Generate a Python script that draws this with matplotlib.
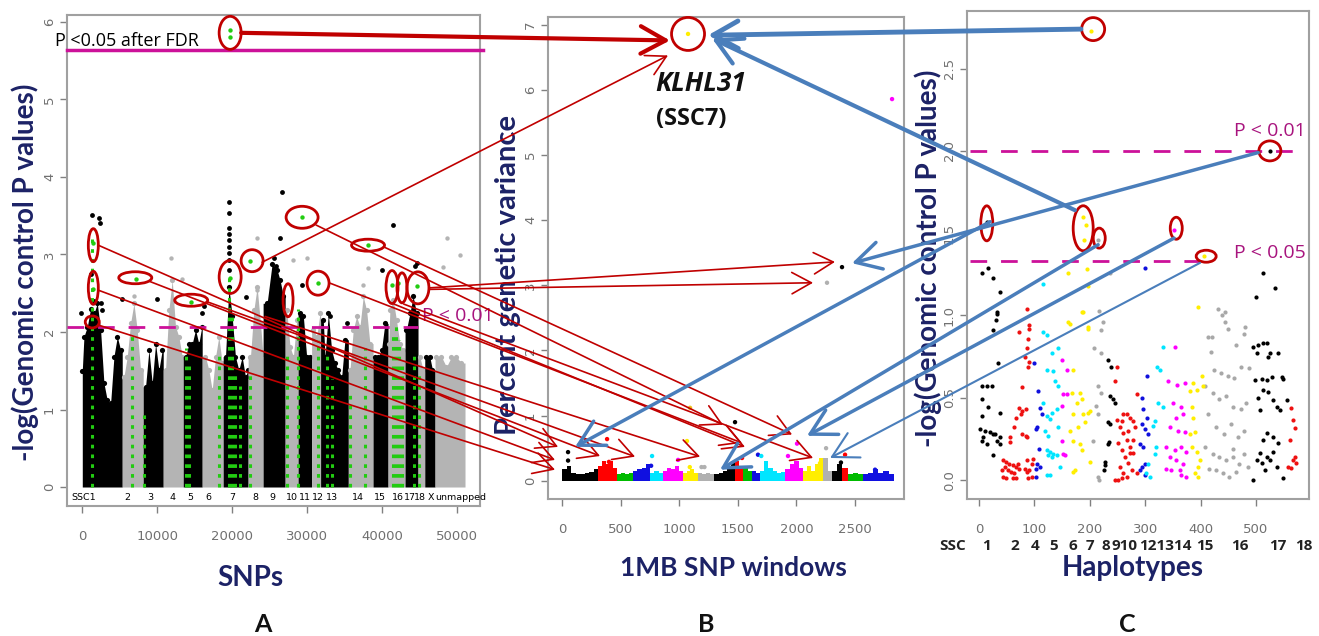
import matplotlib
matplotlib.use('Agg')
import matplotlib.pyplot as plt
from matplotlib.patches import Ellipse, ConnectionPatch
import numpy as np

# ---------------- DATA ----------------
# Panel A: chromosome spans (SNP index) and shading (0 black, 1 grey)
a_chr_start = [0, 5330, 8130, 10800, 13470, 16000, 18800, 22130, 24130, 27070, 28800,
               30600, 31800, 35500, 38800, 40800, 43070, 44800, 45700, 47070]
a_chr_end = [5330, 8130, 10800, 13470, 16000, 18800, 22130, 24130, 27070, 28800, 30600,
             31800, 35500, 38800, 40800, 43070, 44800, 45700, 47070, 51070]
a_chr_shade = [0, 1, 0, 1, 0, 1, 0, 1, 0, 1, 0, 1, 0, 1, 0, 1, 0, 1, 0, 1]
# upper envelope of the dense SNP cloud
a_env_snp = [0, 220, 670, 1110, 1560, 2000, 2440, 2890, 3330, 3780, 4220, 4670, 5110,
             5550, 6000, 6440, 6890, 7330, 7780,
             8440, 8890, 9330, 9780, 10220, 10670,
             11110, 11550, 12000, 12440, 12890, 13330,
             13780, 14220, 14670, 15110, 15550, 15950,
             16440, 16890, 17330, 17780, 18220, 18670,
             19110, 19560, 20000, 20440, 20890, 21330, 21780, 22100,
             22440, 22890, 23330, 23780, 24100,
             24660, 25330, 26000, 26390, 26840,
             27280, 27720, 28170, 28610,
             29060, 29500, 29940, 30390,
             30830, 31280, 31720,
             32160, 32390, 32830, 33270, 33720, 34160, 34610, 35050,
             35720, 36160, 36600, 37050, 37490, 37940, 38380,
             39050, 39490, 39930, 40380,
             40900, 41040, 41490, 41930, 42380, 42820,
             43260, 43710, 44150, 44600,
             45040, 45480,
             45930, 46370, 46730,
             47260, 47930, 48590, 49260, 49920, 50590]
a_env_val = [1.50, 1.94, 2.07, 2.30, 2.24, 2.37, 2.03, 1.34, 1.12, 1.08, 1.68, 1.94, 1.77,
             1.42, 1.68, 2.11, 2.37, 2.03, 1.51,
             1.29, 1.77, 1.34, 1.85, 1.51, 1.77,
             1.51, 2.28, 2.67, 2.07, 1.94, 1.68,
             1.68, 1.85, 1.85, 2.03, 1.85, 2.07,
             1.68, 1.51, 1.25, 1.68, 1.94, 1.60,
             1.68, 2.58, 2.20, 1.68, 1.51, 1.68, 1.42, 1.51,
             1.68, 2.28, 2.58, 2.11, 1.72,
             2.37, 2.88, 2.80, 2.67, 2.46,
             2.28, 1.81, 1.68, 2.15,
             2.24, 2.20, 1.68, 1.68,
             2.03, 1.94, 2.24,
             2.15, 1.68, 2.24, 1.77, 1.60, 1.51, 1.42, 1.90,
             1.51, 2.03, 2.20, 2.07, 2.46, 2.28, 1.85,
             1.68, 1.68, 1.77, 2.11,
             1.85, 2.28, 2.41, 2.15, 1.85, 1.77,
             2.03, 2.24, 2.46, 2.24,
             1.68, 1.51,
             1.68, 1.68, 1.51,
             1.68, 1.68, 1.55, 1.68, 1.68, 1.60]
# isolated SNPs above the cloud
a_black_x = [1330, 2200, 2300, -200, 2440, 2670, 5330, 10000, 16000, 16200, 19640, 19640, 19640,
             19640, 19640, 19640, 19640, 19640, 19640, 26620, 26390, 29280, 33050, 35270,
             41500, 40000, 44600, 44400, 1200, 1600, 25600, 25900, 21800]
a_black_y = [3.51, 3.47, 3.40, 2.24, 2.37, 2.28, 2.43, 2.43, 2.24, 2.33, 3.68, 3.53, 3.34,
             3.27, 3.19, 3.10, 3.02, 2.93, 2.80, 3.81, 3.21, 2.60, 2.20, 2.11,
             3.38, 2.80, 2.89, 2.85, 2.75, 2.40, 2.95, 2.85, 2.45]
a_grey_x = [6890, 11780, 13330, 23330, 23330, 28170, 38160, 48600, 50400, 48150, 37500, 12300, 30000]
a_grey_y = [2.46, 2.95, 2.69, 3.21, 2.54, 2.93, 2.82, 3.21, 2.99, 2.84, 2.60, 2.40, 2.95]
# columns of highlighted (green) SNPs: position and top value
a_green_col_x = [1330, 6670, 8220, 13900, 14300, 18220, 19560, 20000, 20400, 21000, 22350,
                 27280, 28840, 31400, 32700, 33300, 35700, 37700, 41500, 41900, 42300,
                 42700, 44200, 44900]
a_green_col_top = [3.20, 2.00, 1.00, 1.80, 1.60, 1.70, 2.70, 2.20, 1.50, 1.30, 1.50,
                   1.70, 2.30, 1.90, 1.70, 1.40, 1.20, 1.80, 2.00, 2.10, 1.90,
                   1.60, 1.70, 1.50]
a_green_x = [19730, 19730, 1470, 1470, 7110, 14440, 19730, 22350, 29330, 31460, 38130, 41330, 42150, 44600]
a_green_y = [5.80, 5.90, 3.15, 2.55, 2.69, 2.39, 2.70, 2.92, 3.48, 2.63, 3.12, 2.60, 2.63, 2.59]
a_ssc_labels = ["SSC1", "2", "3", "4", "5", "6", "7", "8", "9", "10", "11", "12", "13",
                "14", "15", "16", "17", "18", "X", "unmapped"]
a_ssc_pos = [130, 6000, 9070, 12000, 14400, 16800, 20000, 23060, 25330, 27950, 29750, 31500,
             33350, 36800, 39730, 42150, 43700, 45100, 46550, 50450]
a_fdr = 5.64
a_p01 = 2.06

# Panel B: 1MB windows
b_chr_start = [0, 308, 470, 606, 751, 862, 1032, 1160, 1300, 1476, 1544, 1621, 1689, 1903,
               2056, 2227, 2304, 2389, 2440, 2568]
b_chr_end = [308, 470, 606, 751, 862, 1032, 1160, 1300, 1476, 1544, 1621, 1689, 1903, 2056,
             2227, 2304, 2389, 2440, 2568, 2830]
b_chr_color = ['black', 'red', '#00bb00', '#1010e0', '#00e5ff', '#ff00ff', '#ffee00', '#b0b0b0',
               'black', 'red', '#00bb00', '#1010e0', '#00e5ff', '#ff00ff', '#ffee00', '#b0b0b0',
               'black', 'red', '#00bb00', '#1010e0']
b_band = [[0.18, 0.22, 0.12, 0.10, 0.10, 0.12, 0.14, 0.18],
          [0.22, 0.30, 0.25, 0.30, 0.20],
          [0.10, 0.12, 0.10, 0.12],
          [0.15, 0.18, 0.20, 0.25],
          [0.12, 0.15, 0.12],
          [0.15, 0.20, 0.18, 0.22, 0.15],
          [0.12, 0.15, 0.18, 0.12],
          [0.12, 0.10, 0.12, 0.10],
          [0.10, 0.12, 0.15, 0.20, 0.30],
          [0.30, 0.22],
          [0.20, 0.15],
          [0.15, 0.12],
          [0.15, 0.30, 0.20, 0.15, 0.12, 0.14],
          [0.18, 0.25, 0.30, 0.20],
          [0.15, 0.22, 0.15, 0.25, 0.35],
          [0.35, 0.15],
          [0.15, 0.25],
          [0.20],
          [0.10, 0.12, 0.10],
          [0.10, 0.12, 0.18, 0.12, 0.15, 0.10]]
b_pts_x = [1075, 2816, 2389, 2261, 51, 51, 384, 400, 370, 768, 760, 990, 1066, 1092, 1090,
           1190, 1215, 1476, 2005, 1928, 2253, 1672, 1700, 1536, 2201, 2415, 2380, 2671]
b_pts_y = [6.86, 5.86, 3.28, 3.04, 0.44, 0.31, 0.64, 0.29, 0.20, 0.38, 0.23, 0.32, 0.61, 1.12, 0.21,
           0.21, 0.21, 0.90, 0.57, 0.38, 0.50, 0.40, 0.38, 0.35, 0.27, 0.40, 0.28, 0.17]
b_pts_c = ['#ffee00', '#ff00ff', 'black', '#b0b0b0', 'black', 'black', 'red', 'red', 'red',
           '#00e5ff', '#1010e0', '#ff00ff', '#ffee00', '#f0c020', '#ffee00', '#b0b0b0', '#b0b0b0',
           'black', '#ff00ff', '#ff00ff', '#b0b0b0', '#1010e0', '#00e5ff', 'red', '#ffee00',
           'red', 'black', '#1010e0']

# Panel C: haplotypes
c_black_x = [32, 33, 26, 35, 5, 14, 23, 5, 17, 38, 5, 2, 11, 20, 29, 38, 33, 25, 8, 5, 14, 38, 25,
             5, 17, 26, 38, 30, 14,
             233, 239, 236, 242, 245, 233, 236, 234, 233, 227, 228, 225,
             513, 534, 500, 525, 495, 504, 513, 519, 522, 525, 501, 540, 498, 510, 519, 528, 546,
             549, 513, 522, 504, 531, 537, 555, 543, 507, 519, 531, 540, 513, 507, 519, 501, 525,
             537, 516, 495, 549, 531, 510]
c_black_y = [1.02, 1.01, 0.91, 0.71, 0.57, 0.57, 0.57, 0.49, 0.445, 0.41, 0.39, 0.31, 0.30, 0.29,
             0.28, 0.26, 0.24, 0.28, 0.26, 0.24, 0.22, 0.22, 0.15,
             1.26, 1.29, 1.23, 1.14, 0.97, 1.57,
             0.73, 0.69, 0.51, 0.49, 0.47, 0.35, 0.34, 0.23, 0.22, 0.11, 0.09, 0.06,
             1.26, 1.17, 1.11, 2.00, 0.81, 0.82, 0.83, 0.83, 0.75, 0.77, 0.77, 0.77, 0.607, 0.617,
             0.607, 0.627, 0.627, 0.617, 0.546, 0.536, 0.496, 0.486, 0.445, 0.486, 0.425, 0.425,
             0.283, 0.263, 0.223, 0.243, 0.162, 0.142, 0.121, 0.121, 0.081, 0.061, 0.0, 0.01,
             0.172, 0.101]
c_red_x = [86, 91, 73, 88, 91, 86, 83, 91, 88, 78, 72, 78, 84, 75, 66, 63, 78, 84, 86, 56, 56,
           43, 49, 55, 61, 67, 73, 46, 52, 58, 64, 43, 49, 61, 67, 70, 41, 86, 95, 91, 86, 95,
           89, 83, 97,
           249, 246, 248.5, 254.5, 260.5, 266.6, 272.6, 278.6, 251.5, 257.5, 263.5, 269.6, 275.6,
           254.5, 260.5, 266.6, 272.6, 278.6, 281.6, 245.5, 251.5, 257.5, 284.6, 284.6, 260.5,
           266.6, 272.6, 257.5, 278.6, 269.6,
           564, 567, 570, 561, 567, 573, 564, 558, 570]
c_red_y = [1.04, 0.94, 0.90, 0.86, 0.92, 0.80, 0.75, 0.72, 0.69, 0.565, 0.44, 0.42, 0.43, 0.40,
           0.38, 0.32, 0.28, 0.27, 0.26, 0.26, 0.23,
           0.12, 0.11, 0.10, 0.09, 0.08, 0.07, 0.08, 0.06, 0.05, 0.04, 0.02, 0.01, 0.01, 0.01,
           0.10, 0.06, 0.12, 0.10, 0.06, 0.05, 0.02, 0.01, 0.07, 0.13,
           0.69, 0.60, 0.364, 0.324, 0.283, 0.243, 0.202, 0.162, 0.223, 0.182, 0.142, 0.101,
           0.061, 0.081, 0.040, 0.020, 0.162, 0.243, 0.324, 0.0, 0.0, 0.010, 0.040, 0.525,
           0.40, 0.40, 0.38, 0.36, 0.36, 0.30,
           0.435, 0.364, 0.314, 0.243, 0.121, 0.101, 0.071, 0.081, 0.142]
c_blue_x = [99, 107, 110, 113, 105, 102, 108, 105, 110, 102, 102,
            302.6, 293.6, 296, 302.6, 293.6, 299, 305, 290, 296, 299, 293.6, 290, 299, 300]
c_blue_y = [0.71, 0.54, 0.44, 0.40, 0.32, 0.31, 0.19, 0.10, 0.08, 0.07, 0.02,
            0.63, 0.50, 0.43, 0.38, 0.34, 0.31, 0.28, 0.22, 0.20, 0.10, 0.08, 0.06, 0.03, 1.29]
c_cyan_x = [116, 122, 131, 143, 122, 134, 137, 143, 116, 122, 131, 128, 140, 143, 119, 125, 122,
            128, 134, 140, 125, 131, 146, 122, 128, 116,
            320.7, 326.7, 332.7, 323, 332, 317, 314, 320, 317, 305, 308, 302]
c_cyan_y = [0.90, 0.88, 0.77, 0.80, 0.67, 0.66, 0.60, 0.57, 0.47, 0.39, 0.41, 0.37, 0.43, 0.32,
            0.30, 0.27, 0.18, 0.17, 0.16, 0.155, 0.15, 0.14, 0.08, 0.03, 0.03, 1.19,
            0.69, 0.67, 0.81, 0.47, 0.445, 0.36, 0.33, 0.20, 0.16, 0.10, 0.02, 0.04]
c_mag_x = [149, 158, 152, 158, 150, 149, 152, 155,
           353.8, 341.7, 356.8, 371.8, 350, 365, 368, 356, 344, 359, 371, 338, 353, 365, 374,
           344, 356, 368, 338, 362, 374, 365, 347, 352]
c_mag_y = [0.73, 0.67, 0.52, 0.52, 0.45, 0.24, 0.16, 0.15,
           0.81, 0.60, 0.58, 0.59, 0.47, 0.445, 0.40, 0.38, 0.32, 0.30, 0.29, 0.20, 0.18, 0.20,
           0.17, 0.14, 0.12, 0.10, 0.07, 0.06, 0.02, 0.03, 0.06, 1.52]
c_yel_x = [164, 187, 196, 170, 167, 182, 185, 176, 170, 188, 197, 164, 179, 191, 200, 170, 182,
           185, 200, 173, 170, 161, 194, 197, 185, 161, 197, 202, 188, 193, 189,
           396, 387, 402, 381, 393, 405, 384, 387, 381, 390, 384, 393, 399, 396, 390, 396, 406]
c_yel_y = [0.95, 1.02, 0.93, 0.67, 0.53, 0.53, 0.49, 0.47, 0.40, 0.40, 0.41, 0.30, 0.32, 0.35,
           0.42, 0.24, 0.22, 0.18, 0.11, 0.06, 0.05, 1.26, 1.28, 1.18, 1.02, 0.96, 0.92, 2.73,
           1.60, 1.55, 1.46,
           1.05, 0.59, 0.63, 0.54, 0.55, 0.57, 0.445, 0.375, 0.28, 0.29, 0.20, 0.17, 0.12, 0.08,
           0.04, 0.02, 1.36]
c_grey_x = [217, 223, 208, 220, 215, 220, 211, 214, 205, 214, 217, 220, 236, 215,
            432, 438, 444, 450, 413, 419, 464, 479, 425, 437, 449, 461, 473, 488, 407, 422, 434,
            446, 458, 473, 482, 413, 428, 443, 455, 467, 479, 407, 422, 434, 446, 458, 470, 479,
            428, 440, 452, 464, 416, 485, 458, 444, 420, 480]
c_grey_y = [1.03, 0.96, 0.80, 0.77, 0.57, 0.53, 0.45, 0.40, 0.24, 0.02, 0.0, 0.91, 1.26, 1.46,
            1.04, 1.00, 0.96, 0.92, 0.87, 0.78, 0.82, 0.89, 0.67, 0.65, 0.63, 0.62, 0.69, 0.68,
            0.57, 0.53, 0.49, 0.51, 0.445, 0.43, 0.47, 0.40, 0.32, 0.28, 0.34, 0.26, 0.30, 0.20,
            0.16, 0.14, 0.12, 0.14, 0.10, 0.16, 0.06, 0.04, 0.02, 0.05, 0.07, 0.08, 0.19, 1.02,
            0.87, 0.93]
c_ssc_labels = ["SSC", "1", "2", "4", "5", "6", "7", "8", "910", "121314", "15", "16", "17", "18"]
c_ssc_pos = [-47, 14, 65, 101, 135, 170, 200, 229, 262, 336, 408, 471, 540, 587]
c_p01 = 2.0
c_p05 = 1.33

# ---------------- STYLE ----------------
W, H = 1319, 636
NAVY = '#1c2266'
RED = '#c00000'
BLUE = '#4a7ebb'
MAG = '#cc1199'
MAGT = '#a8147e'
TICKC = '#808080'
plt.rcParams['font.family'] = ['DejaVu Sans']

fig = plt.figure(figsize=(W / 100, H / 100), dpi=100)


def ax_at(l, t, r, b):
    return fig.add_axes([l / W, 1 - b / H, (r - l) / W, (b - t) / H])


def style_ax(ax):
    for s in ax.spines.values():
        s.set_color('#a0a0a0')
        s.set_linewidth(1.5)
    ax.tick_params(axis='both', colors=TICKC, labelcolor='#707070', labelsize=9.5, length=5, width=1)
    ax.tick_params(axis='y', labelrotation=90, pad=3)
    ax.tick_params(axis='x', pad=12)
    for lab in ax.get_yticklabels():
        lab.set_va('center')


def ftext(px, py, s, **kw):
    fig.text(px / W, 1 - py / H, s, **kw)


LABF = dict(family='Lato', fontweight='bold', color=NAVY)

# ---------------- PANEL A ----------------
axA = ax_at(67, 15, 480, 506)
axA.set_xlim(-2040, 53070)
axA.set_ylim(-0.245, 6.09)
env_x = np.array(a_env_snp)
env_y = np.array(a_env_val)
for s, e, sh in zip(a_chr_start, a_chr_end, a_chr_shade):
    m = (env_x >= s) & (env_x < e)
    xs = np.concatenate([[s], env_x[m], [e]])
    ys = np.concatenate([[env_y[m][0]], env_y[m], [env_y[m][-1]]])
    col = 'black' if sh == 0 else '#b4b4b4'
    axA.fill_between(xs, 0, ys, color=col, lw=0, zorder=2)
    axA.scatter(env_x[m], env_y[m], s=14, color=col, lw=0, zorder=2)
axA.scatter(a_grey_x, a_grey_y, s=10, color='#b4b4b4', zorder=3, lw=0)
axA.scatter(a_black_x, a_black_y, s=12, color='black', zorder=3, lw=0)
axA.vlines(a_green_col_x, 0, a_green_col_top, colors='#22cc11', lw=2.2,
           linestyles=(0, (1.2, 2.0)), zorder=4)
axA.scatter(a_green_x, a_green_y, s=10, color='#22cc11', zorder=5, lw=0)
axA.axhline(a_fdr, xmin=0, xmax=1.008, color=MAG, lw=2.5, zorder=5, clip_on=False)
axA.axhline(a_p01, xmin=0, xmax=0.85, color=MAG, lw=2, ls=(0, (6, 5)), zorder=5)
axA.set_yticks([0, 1, 2, 3, 4, 5, 6])
axA.set_xticks([0, 10000, 20000, 30000, 40000, 50000])
style_ax(axA)
for lab, p in zip(a_ssc_labels, a_ssc_pos):
    axA.text(p, -0.13, lab, ha='center', va='center', fontsize=6.8, color='black', zorder=6)
axA.text(-3600, 5.76, 'P <0.05 after FDR', fontsize=13, family='Open Sans', color='black',
         ha='left', va='center', clip_on=False, zorder=6)
axA.text(45300, 2.2, 'P < 0.01', fontsize=14, family='Open Sans', color=MAGT,
         ha='left', va='center', clip_on=False, zorder=6)

# ---------------- PANEL B ----------------
axB = ax_at(548, 17, 904, 499)
axB.set_xlim(-120, 2918)
axB.set_ylim(-0.28, 7.12)
for s, e, col, hts in zip(b_chr_start, b_chr_end, b_chr_color, b_band):
    n = len(hts)
    w = (e - s) / n
    axB.bar([s + w * (i + 0.5) for i in range(n)], hts, width=w, color=col, lw=0, zorder=2)
axB.scatter(b_pts_x, b_pts_y, s=10, c=b_pts_c, lw=0, zorder=3)
axB.set_yticks(range(8))
axB.set_xticks([0, 500, 1000, 1500, 2000, 2500])
style_ax(axB)
axB.text(1185, 6.1, 'KLHL31', fontsize=19, fontstyle='italic', fontweight='bold',
         family='Open Sans', ha='center', va='center', color='#111111')
axB.text(1105, 5.55, '(SSC7)', fontsize=17, fontweight='bold', family='Open Sans',
         ha='center', va='center', color='#111111')

# ---------------- PANEL C ----------------
axC = ax_at(967, 11, 1309, 499)
axC.set_xlim(-21.7, 595.6)
axC.set_ylim(-0.115, 2.85)
for xs, ys, col in [(c_grey_x, c_grey_y, '#a8a8a8'), (c_black_x, c_black_y, 'black'),
                    (c_red_x, c_red_y, '#ee1111'), (c_blue_x, c_blue_y, '#1010dd'),
                    (c_cyan_x, c_cyan_y, '#00e5ff'), (c_mag_x, c_mag_y, '#ff00ff'),
                    (c_yel_x, c_yel_y, '#ffee00')]:
    axC.scatter(xs, ys, s=9, color=col, lw=0, zorder=3)
axC.axhline(c_p01, xmin=0.01, xmax=0.985, color=MAG, lw=2, ls=(0, (6, 5)), zorder=2)
axC.axhline(c_p05, xmin=0.01, xmax=0.70, color=MAG, lw=2, ls=(0, (6, 5)), zorder=2)
axC.text(525, 2.12, 'P < 0.01', fontsize=14, family='Open Sans', color=MAGT, ha='center',
         va='center', zorder=6)
axC.text(525, 1.38, 'P < 0.05', fontsize=14, family='Open Sans', color=MAGT, ha='center',
         va='center', zorder=6)
axC.set_yticks([0, 0.5, 1.0, 1.5, 2.0, 2.5])
axC.set_yticklabels(['0.0', '0.5', '1.0', '1.5', '2.0', '2.5'])
axC.set_xticks([0, 100, 200, 300, 400, 500])
style_ax(axC)
for lab, p in zip(c_ssc_labels, c_ssc_pos):
    axC.text(p, -0.40, lab, ha='center', va='center', fontsize=11, fontweight='bold',
             family='Open Sans', color='#222222', clip_on=False)

# ---------------- AXIS LABELS ----------------
ftext(25, 272, '-log(Genomic control P values)', rotation=90, fontsize=20, ha='center', va='center', **LABF)
ftext(508, 275, 'Percent genetic variance', rotation=90, fontsize=21, ha='center', va='center', **LABF)
ftext(928, 258, '-log(Genomic control P values)', rotation=90, fontsize=20, ha='center', va='center', **LABF)
ftext(250, 578, 'SNPs', fontsize=20, ha='center', va='center', **LABF)
ftext(733, 568, '1MB SNP windows', fontsize=19, ha='center', va='center', **LABF)
ftext(1133, 568, 'Haplotypes', fontsize=20, ha='center', va='center', **LABF)
for px, s in [(263, 'A'), (706, 'B'), (1127, 'C')]:
    ftext(px, 624, s, fontsize=18, fontweight='bold', family='Lato', color='#111111',
          ha='center', va='center')


# ---------------- CIRCLES ----------------
def circ(ax, x, y, wpx, hpx, lw=2.0):
    dx, dy = ax.transData.transform((x, y))
    fx, fy = fig.transFigure.inverted().transform((dx, dy))
    fig.add_artist(Ellipse((fx, fy), wpx / W, hpx / H, transform=fig.transFigure,
                           fill=False, ec=RED, lw=lw, zorder=20))


a_circles = [(19730, 5.86, 22, 33), (1470, 3.12, 10, 33), (1470, 2.57, 10, 33),
             (1330, 2.13, 14, 12), (7070, 2.70, 33, 12), (14530, 2.41, 33, 12),
             (19730, 2.71, 22, 33), (22660, 2.92, 22, 22), (29330, 3.48, 32, 22),
             (27460, 2.41, 10, 33), (31460, 2.63, 22, 24), (38130, 3.12, 33, 12),
             (41330, 2.58, 12, 33), (42660, 2.57, 10, 30), (44790, 2.57, 22, 32)]
for c in a_circles:
    circ(axA, *c)
circ(axB, 1075, 6.86, 33, 33)
c_circles = [(206, 2.74, 23, 23), (525, 2.0, 22, 20), (14, 1.56, 12, 35), (188, 1.53, 20, 45),
             (217, 1.47, 12, 20), (356, 1.53, 12, 22), (410, 1.36, 20, 12)]
for c in c_circles:
    circ(axC, *c)


# ---------------- ARROWS ----------------
def arrow(axs, src, axt, dst, color, lw, hl=1.0, hw=0.55, ms=14):
    cp = ConnectionPatch(xyA=src, coordsA=axs.transData, xyB=dst, coordsB=axt.transData,
                         arrowstyle=f'->,head_length={hl},head_width={hw}', mutation_scale=ms,
                         color=color, lw=lw, zorder=25, shrinkA=0, shrinkB=0)
    fig.add_artist(cp)


red_arrows = [((21200, 5.86), (921, 6.76), 3.0),
              ((24000, 2.90), (904, 6.53), 1.2),
              ((46400, 2.57), (2329, 3.36), 1.2),
              ((46400, 2.55), (2142, 3.04), 1.2),
              ((2130, 3.12), (-34, 0.52), 1.2),
              ((2130, 2.54), (-60, 0.32), 1.2),
              ((2130, 2.09), (-60, 0.17), 1.2),
              ((9060, 2.65), (324, 0.38), 1.2),
              ((16660, 2.39), (623, 0.37), 1.2),
              ((24400, 2.20), (1178, 0.37), 1.2),
              ((31200, 3.38), (1374, 0.86), 1.2),
              ((33060, 2.63), (1536, 0.58), 1.2),
              ((40400, 3.09), (1963, 0.71), 1.2),
              ((41600, 2.36), (1561, 0.52), 1.2),
              ((42900, 2.36), (2142, 0.35), 1.2)]
for src, dst, lw in red_arrows:
    arrow(axA, src, axB, dst, RED, lw, ms=14 if lw < 2 else 18)

blue_arrows = [((184, 2.74), (1246, 6.84), 3.5),
               ((173, 1.64), (1280, 6.79), 3.0),
               ((504, 1.99), (2474, 3.34), 2.5),
               ((20, 1.57), (111, 0.52), 2.5),
               ((215, 1.43), (1348, 0.17), 2.5),
               ((352, 1.47), (2090, 0.69), 2.5),
               ((399, 1.32), (2287, 0.35), 1.5)]
for src, dst, lw in blue_arrows:
    arrow(axC, src, axB, dst, BLUE, lw, ms=18)

fig.savefig('out.png', dpi=100)
